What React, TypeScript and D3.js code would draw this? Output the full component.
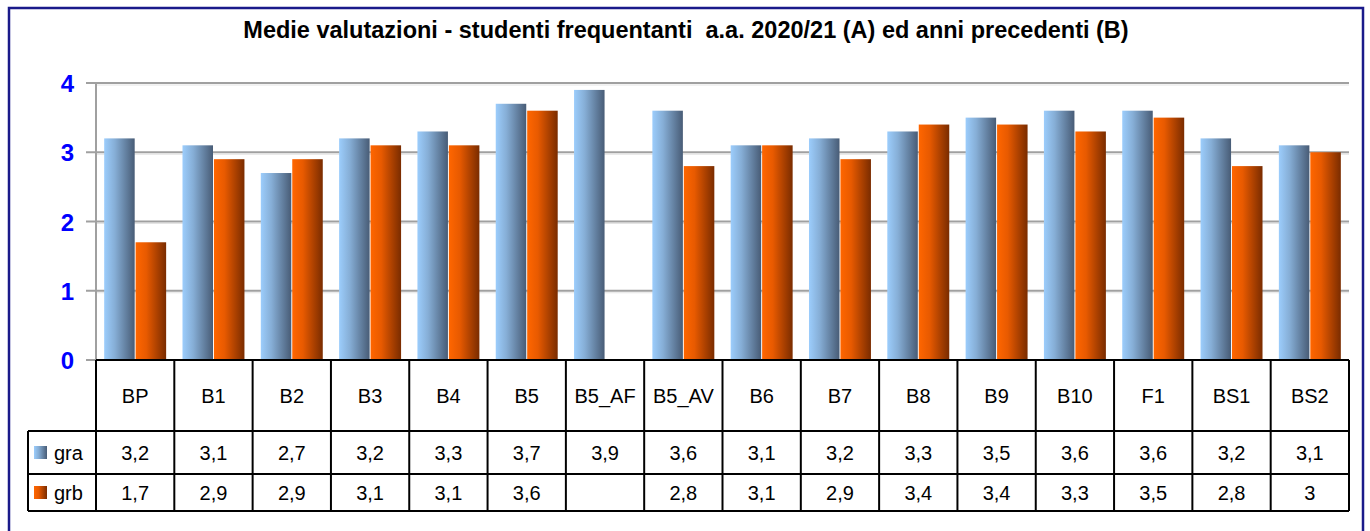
import React from "react";
import { scaleBand, scaleLinear } from "d3";

// dati
const categories = ["BP", "B1", "B2", "B3", "B4", "B5", "B5_AF", "B5_AV", "B6", "B7", "B8", "B9", "B10", "F1", "BS1", "BS2"];
const gra = [3.2, 3.1, 2.7, 3.2, 3.3, 3.7, 3.9, 3.6, 3.1, 3.2, 3.3, 3.5, 3.6, 3.6, 3.2, 3.1];
const grb: (number | null)[] = [1.7, 2.9, 2.9, 3.1, 3.1, 3.6, null, 2.8, 3.1, 2.9, 3.4, 3.4, 3.3, 3.5, 2.8, 3];
const seriesNames = ["gra", "grb"];
const yTicks = [0, 1, 2, 3, 4];
const title = "Medie valutazioni - studenti frequentanti  a.a. 2020/21 (A) ed anni precedenti (B)";

const W = 1370;
const H = 531;
const plotLeft = 96;
const plotRight = 1349;
const plotTop = 83;
const plotBottom = 360;
const catRowBottom = 431;
const rowBottoms = [474, 511];
const legendLeft = 28;

const fmt = (v: number | null) => (v == null ? "" : String(v).replace(".", ","));

export default function App() {
  const x = scaleBand<string>().domain(categories).range([plotLeft, plotRight]);
  const inner = scaleBand<string>()
    .domain(seriesNames)
    .range([0, x.bandwidth()])
    .paddingInner(0.03)
    .paddingOuter(0.26);
  const y = scaleLinear().domain([0, 4]).range([plotBottom, plotTop]);
  const series = [gra, grb];
  const grads = ["gradA", "gradB"];
  const font = "Liberation Sans, Arial, sans-serif";

  return (
    <svg width={W} height={H} style={{ position: "absolute", left: 0, top: 0 }} fontFamily={font}>
      <defs>
        <linearGradient id="gradA" x1="0" x2="1" y1="0" y2="0">
          <stop offset="0" stopColor="#9ccdfc" />
          <stop offset="0.35" stopColor="#86aed6" />
          <stop offset="1" stopColor="#485c76" />
        </linearGradient>
        <linearGradient id="gradB" x1="0" x2="1" y1="0" y2="0">
          <stop offset="0" stopColor="#ff6600" />
          <stop offset="0.35" stopColor="#e85a00" />
          <stop offset="1" stopColor="#7a2c00" />
        </linearGradient>
      </defs>
      <rect x={0} y={0} width={W} height={H} fill="#fff" />
      <rect x={9} y={8} width={1354} height={560} fill="none" stroke="#1a1a8a" strokeWidth={2.5} />

      <text x={686} y={38} textAnchor="middle" fontWeight="bold" fontSize={23.5} fill="#000" style={{ whiteSpace: "pre" }}>
        {title}
      </text>

      {/* griglia */}
      {yTicks.map((t) => (
        <g key={t}>
          {t > 0 && <line x1={plotLeft} x2={plotRight} y1={y(t) + 2} y2={y(t) + 2} stroke="#e4e4e4" strokeWidth={1} />}
          <line x1={86} x2={t > 0 ? plotRight : plotLeft} y1={y(t)} y2={y(t)} stroke="#a0a0a0" strokeWidth={2} />
          <text x={74} y={y(t) + 9} textAnchor="end" fontWeight="bold" fontSize={24} fill="#0000ff">
            {t}
          </text>
        </g>
      ))}
      <line x1={plotLeft} x2={plotLeft} y1={plotTop} y2={plotBottom} stroke="#a0a0a0" strokeWidth={2} />

      {/* barre */}
      {categories.map((c, i) => (
        <g key={c}>
          {series.map((s, j) => {
            const v = s[i];
            if (v == null) return null;
            return (
              <rect
                key={j}
                x={(x(c) ?? 0) + (inner(seriesNames[j]) ?? 0)}
                y={y(v)}
                width={inner.bandwidth()}
                height={plotBottom - y(v)}
                fill={`url(#${grads[j]})`}
              />
            );
          })}
        </g>
      ))}

      {/* tabella dati */}
      <g stroke="#000" strokeWidth={2}>
        <line x1={plotLeft} x2={plotRight} y1={plotBottom} y2={plotBottom} />
        <line x1={legendLeft} x2={plotRight} y1={catRowBottom} y2={catRowBottom} />
        {rowBottoms.map((rb) => (
          <line key={rb} x1={legendLeft} x2={plotRight} y1={rb} y2={rb} />
        ))}
        <line x1={legendLeft} x2={legendLeft} y1={catRowBottom} y2={rowBottoms[1]} />
        {categories.map((c) => (
          <line key={c} x1={x(c)} x2={x(c)} y1={plotBottom} y2={rowBottoms[1]} />
        ))}
        <line x1={plotRight} x2={plotRight} y1={plotBottom} y2={rowBottoms[1]} />
      </g>
      {categories.map((c) => (
        <text key={c} x={(x(c) ?? 0) + x.bandwidth() / 2} y={(plotBottom + catRowBottom) / 2 + 7} textAnchor="middle" fontSize={20}>
          {c}
        </text>
      ))}
      {series.map((s, j) => {
        const top = j === 0 ? catRowBottom : rowBottoms[0];
        const bottom = rowBottoms[j];
        const mid = (top + bottom) / 2;
        return (
          <g key={j}>
            <rect x={34} y={mid - 6.5} width={13} height={13} fill={`url(#${grads[j]})`} />
            <text x={54} y={mid + 7} fontSize={20}>
              {seriesNames[j]}
            </text>
            {categories.map((c, i) => (
              <text key={c} x={(x(c) ?? 0) + x.bandwidth() / 2} y={mid + 7} textAnchor="middle" fontSize={20}>
                {fmt(s[i])}
              </text>
            ))}
          </g>
        );
      })}
    </svg>
  );
}
